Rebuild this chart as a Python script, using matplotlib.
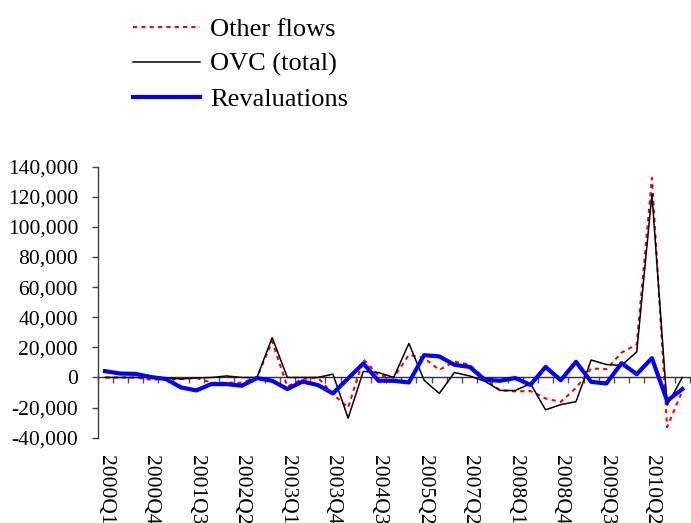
import matplotlib
matplotlib.use("Agg")
import matplotlib.pyplot as plt
from matplotlib.ticker import FuncFormatter, FixedLocator
import numpy as np

plt.rcParams['font.family'] = ['Liberation Serif', 'DejaVu Serif']

quarters = [
    "2000Q1", "2000Q2", "2000Q3", "2000Q4", "2001Q1", "2001Q2", "2001Q3", "2001Q4",
    "2002Q1", "2002Q2", "2002Q3", "2002Q4", "2003Q1", "2003Q2", "2003Q3", "2003Q4",
    "2004Q1", "2004Q2", "2004Q3", "2004Q4", "2005Q1", "2005Q2", "2005Q3", "2005Q4",
    "2007Q2", "2007Q3", "2007Q4", "2008Q1", "2008Q2", "2008Q3", "2008Q4", "2009Q1",
    "2009Q2", "2009Q3", "2009Q4", "2010Q1", "2010Q2", "2010Q3", "2010Q4",
]

other_flows = [
    0, 0, 0, -1500, -1000, -1000, -300, -3500, -3500, -3500, 0, 24000, -6000,
    -1000, 0, -11000, -20000, 12000, 1500, 0, 15000, 13000, 5000, 10500, 8500,
    -1000, -8500, -9200, -9000, -14000, -16200, -7000, 6000, 5500, 16500, 22000,
    132500, -33000, -9000,
]

ovc_total = [
    0, 0, 0, 0, -300, -1000, -300, 0, 1000, 0, 0, 26500, 0, 0, 0, 2200, -27000,
    4000, 3300, 0, 22600, -1800, -10600, 3300, 1000, -2500, -8600, -8700, -4100,
    -21500, -18000, -16100, 11600, 8600, 8000, 17000, 121700, -18400, 0,
]

revaluations = [
    4200, 2600, 2400, 300, -1000, -6600, -8600, -4400, -4400, -5500, -400, -2200,
    -7700, -2700, -5000, -10600, -600, 9300, -2200, -2200, -3300, 14800, 14000,
    8400, 7000, -1500, -2200, -400, -4900, 7000, -1800, 10400, -2900, -4000, 9500,
    2200, 12800, -15500, -7700,
]

y_ticks = [-40000, -20000, 0, 20000, 40000, 60000, 80000, 100000, 120000, 140000]
label_step = 3

fig = plt.figure(figsize=(6.91, 5.23), dpi=100)
ax = fig.add_axes([0.1411, 0.1631, 0.8573, 0.5182])

x = np.arange(len(quarters))
l1, = ax.plot(x, other_flows, color='#FF0000', lw=1.5, linestyle=(0, (2, 2)),
              label='Other flows')
l2, = ax.plot(x, ovc_total, color='black', lw=1.1, label='OVC (total)')
l3, = ax.plot(x, revaluations, color='#0000FF', lw=3.0, label='Revaluations')

ymin, ymax = y_ticks[0], y_ticks[-1]
ax.set_ylim(ymin, ymax)
ax.set_xlim(-0.5, len(quarters) - 0.5)

# y axis
ax.yaxis.set_major_locator(FixedLocator(y_ticks))
ax.yaxis.set_major_formatter(FuncFormatter(lambda v, p: f"{v:,.0f}"))
ax.tick_params(axis='y', direction='out', length=4.5, width=1.0, color='#404040',
               pad=9.5, labelsize=15.5, labelcolor='black')
ax.spines['left'].set_color('#404040')
ax.spines['left'].set_linewidth(1.0)
for s in ('top', 'right', 'bottom'):
    ax.spines[s].set_visible(False)

# category labels along the bottom edge
ax.xaxis.set_major_locator(FixedLocator(x[::label_step]))
ax.set_xticklabels(quarters[::label_step], rotation=-90, ha='center', va='top',
                   fontsize=15.5)
ax.tick_params(axis='x', length=0, pad=12.5)

# category axis drawn at the zero level, ticks between categories
zero_pos = (0 - ymin) / (ymax - ymin)
sec = ax.secondary_xaxis(zero_pos)
sec.xaxis.set_major_locator(FixedLocator(np.arange(len(quarters) + 1) - 0.5))
sec.tick_params(axis='x', direction='out', length=4.5, width=1.0, color='#505050',
                labelbottom=False, labeltop=False, bottom=True, top=False)
sec.xaxis.set_ticks_position('bottom')
sec.spines['bottom'].set_color('#303030')
sec.spines['bottom'].set_linewidth(1.0)
sec.set_xticklabels([])

fig.legend(handles=[l1, l2, l3], loc='upper left',
           bbox_to_anchor=(133 / 691, 1 - 18 / 523), frameon=False,
           fontsize=19, handlelength=2.54, handletextpad=0.38,
           labelspacing=0.42, borderpad=0, borderaxespad=0)

fig.savefig('out.png', dpi=100)
